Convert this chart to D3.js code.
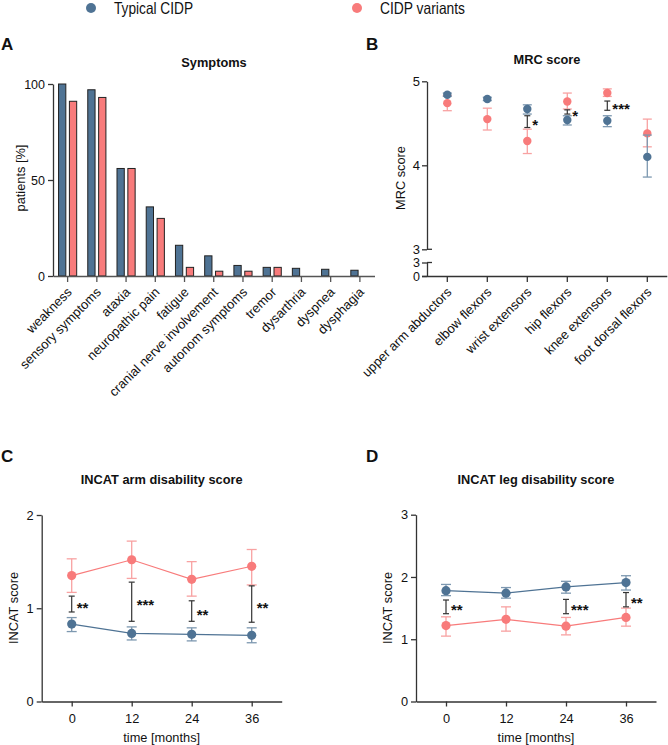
<!DOCTYPE html>
<html><head><meta charset="utf-8">
<script src="https://cdn.jsdelivr.net/npm/d3@7"></script>
<style>body{margin:0;background:#fff} svg{display:block;font-family:"Liberation Sans",Arial,sans-serif}</style>
</head><body><svg id="c" width="668" height="745"></svg>
<script>
// ---------- data ----------
const seriesNames = ["Typical CIDP", "CIDP variants"];

const symptomCats = ["weakness","sensory symptoms","ataxia","neuropathic pain","fatigue","cranial nerve involvement","autonom symptoms","tremor","dysarthria","dyspnea","dysphagia"];
const symptomTypical = [100, 97, 56, 36, 16, 10.5, 5.5, 4.5, 4, 3.5, 3];
const symptomVariant = [91, 93, 56, 30, 4.5, 2.5, 2.5, 4.5, 0, 0, 0];
const symptomTicks = [0, 50, 100];

const mrcCats = ["upper arm abductors","elbow flexors","wrist extensors","hip flexors","knee extensors","foot dorsal flexors"];
const mrcTypical = [4.84, 4.79, 4.67, 4.54, 4.53, 4.10];
const mrcTypicalLo = [4.82, 4.77, 4.61, 4.48, 4.46, 3.86];
const mrcTypicalHi = [4.86, 4.81, 4.72, 4.59, 4.59, 4.36];
const mrcVariant = [4.74, 4.55, 4.29, 4.76, 4.86, 4.38];
const mrcVariantLo = [4.65, 4.42, 4.14, 4.67, 4.82, 4.22];
const mrcVariantHi = [4.83, 4.68, 4.43, 4.86, 4.91, 4.55];
const mrcSigCat = ["wrist extensors","hip flexors","knee extensors"];
const mrcSigLo = [4.45, 4.61, 4.655];
const mrcSigHi = [4.59, 4.66, 4.765];
const mrcSigLabel = ["*","*","***"];
const mrcUpperTicks = [3, 4, 5];
const mrcLowerTicks = [0, 3];

const months = [0, 12, 24, 36];
const armTypical = [0.83, 0.73, 0.72, 0.71];
const armTypicalLo = [0.75, 0.66, 0.65, 0.63];
const armTypicalHi = [0.90, 0.80, 0.79, 0.79];
const armVariant = [1.35, 1.52, 1.31, 1.45];
const armVariantLo = [1.17, 1.32, 1.13, 1.25];
const armVariantHi = [1.53, 1.72, 1.50, 1.63];
const armSigMonth = [0, 12, 24, 36];
const armSigLo = [0.96, 0.86, 0.86, 0.85];
const armSigHi = [1.13, 1.28, 1.08, 1.24];
const armSigLabel = ["**","***","**","**"];
const armTicks = [0, 1, 2];

const legTypical = [1.78, 1.74, 1.84, 1.91];
const legTypicalLo = [1.70, 1.66, 1.74, 1.79];
const legTypicalHi = [1.88, 1.83, 1.93, 2.02];
const legVariant = [1.22, 1.32, 1.21, 1.35];
const legVariantLo = [1.05, 1.13, 1.07, 1.21];
const legVariantHi = [1.36, 1.52, 1.35, 1.50];
const legSigMonth = [0, 24, 36];
const legSigLo = [1.41, 1.41, 1.52];
const legSigHi = [1.63, 1.64, 1.75];
const legSigLabel = ["**","***","**"];
const legTicks = [0, 1, 2, 3];

// ---------- style ----------
const BLUE = "#4f7394", RED = "#f87b7b", BLUE_ERR = "#7d98b0", RED_ERR = "#f8a2a2", AX = "#333", SIG = "#333";
const svg = d3.select("#c");
const fmt = d3.format("d");

function styleAxis(g, color, fs) {
  g.selectAll("path.domain").attr("stroke", color || AX).attr("stroke-width", 1.3);
  g.selectAll(".tick line").attr("stroke", color || AX).attr("stroke-width", 1.3);
  g.selectAll(".tick text").attr("fill", "#111").style("font-size", (fs || 12) + "px").style("font-family", '"Liberation Sans",Arial,sans-serif');
}
function panelLetter(t, x, y) {
  svg.append("text").attr("x", x).attr("y", y).text(t).attr("font-weight", "bold").attr("font-size", 17).attr("fill", "#111");
}
function title(t, x, y) {
  svg.append("text").attr("x", x).attr("y", y).text(t).attr("text-anchor", "middle").attr("font-weight", "bold").attr("font-size", 12.8).attr("fill", "#111");
}
function yLabel(t, x, y) {
  svg.append("text").attr("transform", `translate(${x},${y}) rotate(-90)`).attr("text-anchor", "middle").attr("dominant-baseline", "central").attr("font-size", 12.8).attr("fill", "#111").text(t);
}
function errBar(g, x, lo, hi, color, hw, sw) {
  g.append("line").attr("x1", x).attr("x2", x).attr("y1", lo).attr("y2", hi).attr("stroke", color).attr("stroke-width", sw || 1.3);
  g.append("line").attr("x1", x - hw).attr("x2", x + hw).attr("y1", lo).attr("y2", lo).attr("stroke", color).attr("stroke-width", sw || 1.3);
  g.append("line").attr("x1", x - hw).attr("x2", x + hw).attr("y1", hi).attr("y2", hi).attr("stroke", color).attr("stroke-width", sw || 1.3);
}
function sig(g, x, lo, hi, label) {
  errBar(g, x, lo, hi, SIG, 3, 1.2);
  g.append("text").attr("x", x + 5).attr("y", (lo + hi) / 2 + 8.6).attr("font-size", 15).attr("font-weight", "bold").attr("fill", "#111").text(label);
}

// ---------- legend ----------
const legendX = [91, 357];
const legendColors = [BLUE, RED];
const legendW = [79, 85];
seriesNames.forEach((n, i) => {
  svg.append("circle").attr("cx", legendX[i]).attr("cy", 8).attr("r", 5).attr("fill", legendColors[i]);
  svg.append("text").attr("x", legendX[i] + 23).attr("y", 14).attr("font-size", 16.5).attr("fill", "#111")
    .attr("textLength", legendW[i]).attr("lengthAdjust", "spacingAndGlyphs").text(n);
});

// ---------- Panel A ----------
{
  panelLetter("A", 1, 50);
  title("Symptoms", 214, 66.5);
  const x = d3.scaleBand().domain(symptomCats).range([53, 374.5]);
  const y = d3.scaleLinear().domain([0, 100]).range([276, 84]);
  const sub = d3.scaleBand().domain(seriesNames).range([0, x.bandwidth()]).paddingInner(0.33).paddingOuter(0.51);
  const g = svg.append("g");
  const vals = [symptomTypical, symptomVariant];
  const cols = [BLUE, RED];
  symptomCats.forEach((c, i) => {
    seriesNames.forEach((s, k) => {
      const v = vals[k][i];
      if (!v) return;
      g.append("rect").attr("x", x(c) + sub(s)).attr("y", y(v)).attr("width", sub.bandwidth()).attr("height", y(0) - y(v))
        .attr("fill", cols[k]).attr("stroke", "#222").attr("stroke-width", 1);
    });
  });
  const xa = svg.append("g").attr("transform", "translate(0,276)").call(d3.axisBottom(x).tickSize(6).tickSizeOuter(0));
  styleAxis(xa, "#555");
  xa.selectAll(".tick text").attr("text-anchor", "end").attr("dy", null).attr("y", null)
    .attr("transform", "translate(5,17) rotate(-45)").style("font-size", "13px");
  const ya = svg.append("g").attr("transform", "translate(53,0)").call(d3.axisLeft(y).tickValues(symptomTicks).tickFormat(fmt).tickSize(5).tickSizeOuter(0));
  styleAxis(ya, AX, 12.5);
  yLabel("patients [%]", 20, 178);
}

// ---------- Panel B ----------
{
  panelLetter("B", 366, 50);
  title("MRC score", 547, 64);
  const x = d3.scaleBand().domain(mrcCats).range([427.3, 667.3]);
  const yU = d3.scaleLinear().domain([3, 5]).range([249.3, 81.3]);
  const yL = d3.scaleLinear().domain([0, 3]).range([276, 262.5]);
  const cx = c => x(c) + x.bandwidth() / 2;
  const g = svg.append("g");
  mrcCats.forEach((c, i) => {
    errBar(g, cx(c), yU(mrcVariantLo[i]), yU(mrcVariantHi[i]), RED_ERR, 4.5);
  });
  mrcCats.forEach((c, i) => {
    g.append("circle").attr("cx", cx(c)).attr("cy", yU(mrcVariant[i])).attr("r", 4.2).attr("fill", RED);
  });
  mrcCats.forEach((c, i) => {
    errBar(g, cx(c), yU(mrcTypicalLo[i]), yU(mrcTypicalHi[i]), BLUE_ERR, 4.5);
  });
  mrcCats.forEach((c, i) => {
    g.append("circle").attr("cx", cx(c)).attr("cy", yU(mrcTypical[i])).attr("r", 4.2).attr("fill", BLUE);
  });
  mrcSigCat.forEach((c, i) => sig(g, cx(c), yU(mrcSigLo[i]), yU(mrcSigHi[i]), mrcSigLabel[i]));

  const xa = svg.append("g").attr("transform", "translate(0,276)").call(d3.axisBottom(x).tickSize(6).tickSizeOuter(0));
  styleAxis(xa);
  xa.select("path.domain").attr("d", `M${422},0.5H667.3`);
  xa.selectAll(".tick text").attr("text-anchor", "end").attr("dy", null).attr("y", null)
    .attr("transform", "translate(5,17) rotate(-45)").style("font-size", "13px");
  const yaU = svg.append("g").attr("transform", "translate(427,0)").call(d3.axisLeft(yU).tickValues(mrcUpperTicks).tickFormat(fmt).tickSize(5).tickPadding(2).tickSizeOuter(0));
  styleAxis(yaU, AX, 13);
  const yaL = svg.append("g").attr("transform", "translate(427,0)").call(d3.axisLeft(yL).tickValues(mrcLowerTicks).tickFormat(fmt).tickSize(5).tickPadding(2).tickSizeOuter(0));
  styleAxis(yaL, AX, 12.5);
  [yU(3), yL(3)].forEach(yy => svg.append("line").attr("x1", 427).attr("x2", 432).attr("y1", yy).attr("y2", yy).attr("stroke", AX).attr("stroke-width", 1.3));
  yLabel("MRC score", 400, 178);
}

// ---------- Panels C & D ----------
function linePanel(o) {
  panelLetter(o.letter, o.lx, 462);
  title(o.title, (o.x0 + o.x1) / 2, 483.5);
  const x = d3.scaleLinear().domain([-6, 42]).range([o.x0, o.x1]);
  const y = d3.scaleLinear().domain([0, o.ymax]).range([701.5, o.ytop]);
  const g = svg.append("g");
  const line = d3.line().x((d, i) => x(months[i])).y(d => y(d));
  g.append("path").datum(o.var).attr("d", line).attr("fill", "none").attr("stroke", RED).attr("stroke-width", 1.2);
  g.append("path").datum(o.typ).attr("d", line).attr("fill", "none").attr("stroke", BLUE).attr("stroke-width", 1.2);
  months.forEach((m, i) => {
    errBar(g, x(m), y(o.varLo[i]), y(o.varHi[i]), RED_ERR, 5);
    errBar(g, x(m), y(o.typLo[i]), y(o.typHi[i]), BLUE_ERR, 5);
  });
  months.forEach((m, i) => {
    g.append("circle").attr("cx", x(m)).attr("cy", y(o.var[i])).attr("r", 4.6).attr("fill", RED);
    g.append("circle").attr("cx", x(m)).attr("cy", y(o.typ[i])).attr("r", 4.6).attr("fill", BLUE);
  });
  o.sigM.forEach((m, i) => sig(g, x(m), y(o.sigLo[i]), y(o.sigHi[i]), o.sigL[i]));
  const xa = svg.append("g").attr("transform", "translate(0,701.5)").call(d3.axisBottom(x).tickValues(months).tickFormat(fmt).tickSize(5).tickPadding(7).tickSizeOuter(0));
  styleAxis(xa, AX, 12.8);
  const ya = svg.append("g").attr("transform", `translate(${o.x0},0)`).call(d3.axisLeft(y).tickValues(o.ticks).tickFormat(fmt).tickSize(5).tickPadding(3).tickSizeOuter(0));
  styleAxis(ya, AX, 12.8);
  svg.append("text").attr("x", (o.x0 + o.x1) / 2).attr("y", 741.5).attr("text-anchor", "middle").attr("font-size", 12.8).attr("fill", "#111").text("time [months]");
  yLabel("INCAT score", o.ylx, 608);
}
linePanel({letter: "C", lx: 1, title: "INCAT arm disability score", x0: 41.7, x1: 281.7, ymax: 2, ytop: 515, ticks: armTicks,
  typ: armTypical, typLo: armTypicalLo, typHi: armTypicalHi, var: armVariant, varLo: armVariantLo, varHi: armVariantHi,
  sigM: armSigMonth, sigLo: armSigLo, sigHi: armSigHi, sigL: armSigLabel, ylx: 13.5});
linePanel({letter: "D", lx: 366, title: "INCAT leg disability score", x0: 416, x1: 656, ymax: 3, ytop: 514.7, ticks: legTicks,
  typ: legTypical, typLo: legTypicalLo, typHi: legTypicalHi, var: legVariant, varLo: legVariantLo, varHi: legVariantHi,
  sigM: legSigMonth, sigLo: legSigLo, sigHi: legSigHi, sigL: legSigLabel, ylx: 387.5});
</script>
</body></html>
